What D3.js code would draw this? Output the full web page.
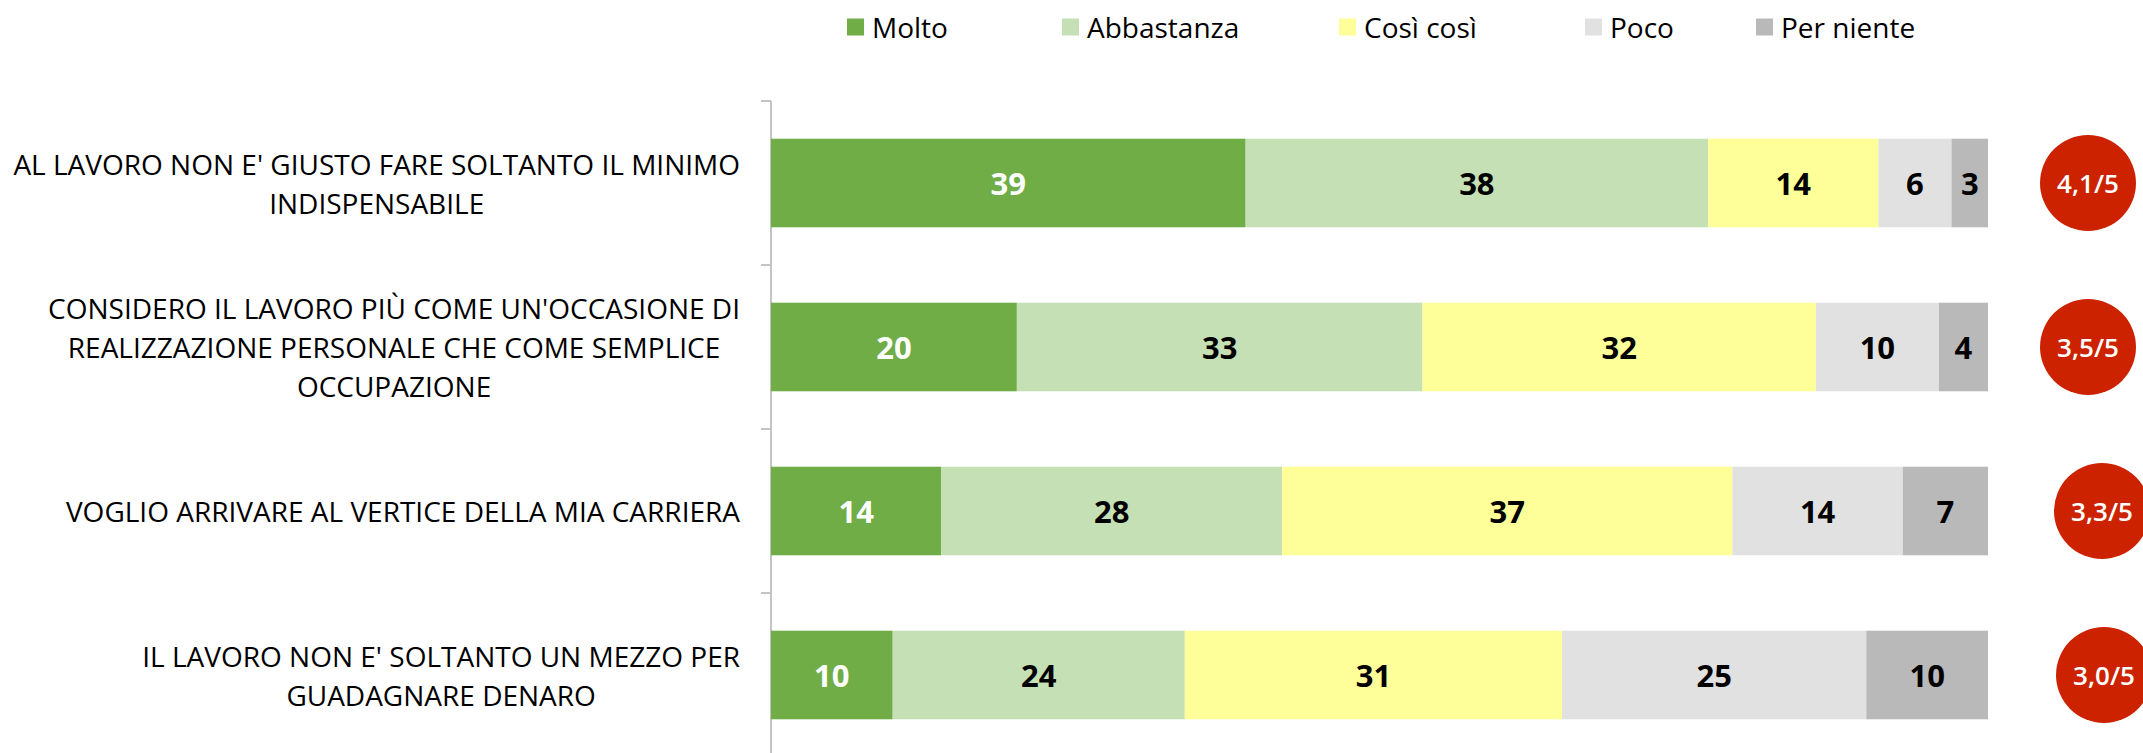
<!DOCTYPE html>
<html>
<head>
<meta charset="utf-8">
<script src="https://cdn.jsdelivr.net/npm/d3@7"></script>
<style>
  html, body { margin: 0; padding: 0; background: #fff; }
  svg { display: block; }
</style>
</head>
<body>
<svg id="chart" width="2143" height="753"></svg>
<script>
// ---- DATA ----
const categories = [
  ["AL LAVORO NON E' GIUSTO FARE SOLTANTO IL MINIMO", "INDISPENSABILE"],
  ["CONSIDERO IL LAVORO PIÙ COME UN'OCCASIONE DI", "REALIZZAZIONE PERSONALE CHE COME SEMPLICE", "OCCUPAZIONE"],
  ["VOGLIO ARRIVARE AL VERTICE DELLA MIA CARRIERA"],
  ["IL LAVORO NON E' SOLTANTO UN MEZZO PER", "GUADAGNARE DENARO"]
];
const seriesNames = ["Molto", "Abbastanza", "Così così", "Poco", "Per niente"];
const molto      = [39, 20, 14, 10];
const abbastanza = [38, 33, 28, 24];
const cosiCosi   = [14, 32, 37, 31];
const poco       = [6, 10, 14, 25];
const perNiente  = [3, 4, 7, 10];
const ratings    = [4.1, 3.5, 3.3, 3.0];

// ---- STYLE / LAYOUT ----
const colors = ["#70AD47", "#C5E0B4", "#FFFF99", "#E1E1E1", "#B9B9B9"];
const labelColors = ["#ffffff", "#000000", "#000000", "#000000", "#000000"];
const legendX = [847, 1062, 1339, 1585, 1756];
const badgeDx = [100, 100, 114, 116];
const FONT = "'Open Sans', sans-serif";

const svg = d3.select("#chart");
const seriesValues = [molto, abbastanza, cosiCosi, poco, perNiente];
const rows = categories.map((c, i) => {
  const r = { idx: i };
  seriesNames.forEach((s, j) => r[s] = seriesValues[j][i]);
  return r;
});

const x = d3.scaleLinear().domain([0, 1]).range([771, 1988]);
const y = d3.scaleBand().domain(d3.range(categories.length))
  .range([101, 757]).paddingInner(0.46).paddingOuter(0.23);

const stack = d3.stack().keys(seriesNames)
  .offset(d3.stackOffsetExpand);
const stacked = stack(rows);

// axis
const axisG = svg.append("g");
axisG.append("line")
  .attr("x1", x(0)).attr("x2", x(0))
  .attr("y1", y.range()[0]).attr("y2", 753)
  .attr("stroke", "#c4c4c4").attr("stroke-width", 2);
const tickYs = d3.range(categories.length + 1).map(i => y.range()[0] + i * y.step());
axisG.selectAll("line.tick").data(tickYs).join("line")
  .attr("class", "tick")
  .attr("x1", x(0) - 10).attr("x2", x(0))
  .attr("y1", d => d).attr("y2", d => d)
  .attr("stroke", "#c4c4c4").attr("stroke-width", 2);

// bars
const layers = svg.append("g").selectAll("g").data(stacked).join("g")
  .attr("fill", (d, i) => colors[i]);
layers.selectAll("rect").data(d => d).join("rect")
  .attr("x", d => x(d[0]))
  .attr("width", d => x(d[1]) - x(d[0]))
  .attr("y", (d, i) => y(i))
  .attr("height", y.bandwidth());

// bar value labels
const lbl = svg.append("g").selectAll("g").data(stacked).join("g")
  .attr("fill", (d, i) => labelColors[i]);
lbl.selectAll("text").data(d => d.map(v => ({ v, key: d.key }))).join("text")
  .attr("x", d => (x(d.v[0]) + x(d.v[1])) / 2)
  .attr("y", (d, i) => y(i) + y.bandwidth() / 2)
  .attr("text-anchor", "middle")
  .attr("dominant-baseline", "central")
  .attr("font-family", FONT)
  .attr("font-weight", 700)
  .attr("font-size", 31)
  .text(d => d.v.data[d.key]);

// category labels
const LH = 39;
const catG = svg.append("g").selectAll("g").data(categories).join("g");
catG.each(function(lines, i) {
  const g = d3.select(this);
  const cy = y(i) + y.bandwidth() / 2;
  const t = g.append("text")
    .attr("font-family", FONT)
    .attr("font-size", 28)
    .attr("fill", "#000")
    .attr("text-anchor", "middle");
  lines.forEach((ln, k) => {
    t.append("tspan")
      .attr("y", cy + (k - (lines.length - 1) / 2) * LH)
      .attr("dominant-baseline", "central")
      .text(ln);
  });
  // right-align the centered block to the axis
  const widths = [];
  t.selectAll("tspan").each(function() { widths.push(this.getComputedTextLength()); });
  const maxW = d3.max(widths);
  const cx = 740 - maxW / 2;
  t.selectAll("tspan").attr("x", cx);
});

// rating badges
const badge = svg.append("g").selectAll("g").data(ratings).join("g")
  .attr("transform", (d, i) => `translate(${x(1) + badgeDx[i]},${y(i) + y.bandwidth() / 2})`);
badge.append("circle").attr("r", 48).attr("fill", "#CC2200");
badge.append("text")
  .attr("text-anchor", "middle")
  .attr("dominant-baseline", "central")
  .attr("font-family", FONT)
  .attr("font-weight", 600)
  .attr("font-size", 26)
  .attr("fill", "#fff")
  .text(d => d3.format(".1f")(d).replace(".", ",") + "/5");

// legend
const leg = svg.append("g").selectAll("g").data(seriesNames).join("g")
  .attr("transform", (d, i) => `translate(${legendX[i]},27)`);
leg.append("rect").attr("x", 0).attr("y", -8.5).attr("width", 17).attr("height", 17)
  .attr("fill", (d, i) => colors[i]);
leg.append("text").attr("x", 25).attr("y", 0)
  .attr("dominant-baseline", "central")
  .attr("font-family", FONT)
  .attr("font-size", 28)
  .attr("fill", "#000")
  .text(d => d);
</script>
</body>
</html>
